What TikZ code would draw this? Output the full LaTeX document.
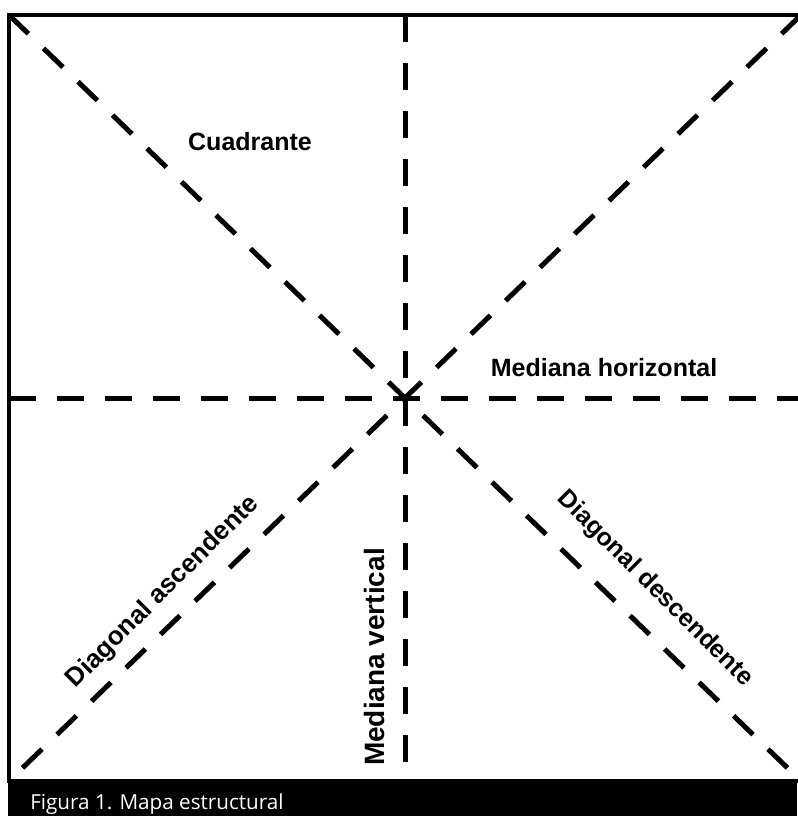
\documentclass[tikz,border=0pt]{standalone}
\usepackage{fontspec}
\setmainfont{Liberation Sans}
\newfontfamily\capfont{Open Sans}
\tikzset{
% Dashed guide lines and bold labels of the map
guide line/.style={line width=3.75pt,dash pattern=on 20.25pt off 15.75pt},
map label/.style={font=\fontsize{18.75}{22}\selectfont\bfseries,inner sep=0}
}
\begin{document}
\begin{tikzpicture}[x=0.75pt,y=-0.75pt]
\useasboundingbox (0,0) rectangle (797,816);
\fill[white] (0,0) rectangle (797,816);
% Corners and midpoints of the frame
\coordinate (tl) at (9,15);
\coordinate (tr) at (801,15);
\coordinate (bl) at (9,781);
\coordinate (br) at (801,781);
\coordinate (tm) at (405,15);
\coordinate (bm) at (405,781);
\coordinate (lm) at (9,398);
\coordinate (rm) at (801,398);
% Guide lines
\draw[guide line] (tl) -- (br);
\draw[guide line] (tr) -- (bl);
\draw[guide line] (tm) -- (bm);
\draw[guide line] (lm) -- (rm);
% Frame
\draw[line width=3pt] (bl) -- (tl) -- (tr) -- (br) -- cycle;
% Caption band
\fill (8,783) rectangle (797,816);
\node(caption)[anchor=base west,text=white,font=\capfont\fontsize{15.5}{18}\selectfont,inner sep=0] at (30,809) {Figura 1. Mapa estructural};
% Labels
\node(quad)[map label] at (250,142) {Cuadrante};
\node(mhor)[map label] at (604,368) {Mediana horizontal};
\node(mver)[map label,rotate=90,font=\fontsize{21}{24}\selectfont\bfseries] at (374,657) {Mediana vertical};
\node(dasc)[map label,rotate=45,font=\fontsize{19.5}{22}\selectfont\bfseries] at (163,592) {Diagonal ascendente};
\node(ddes)[map label,rotate=-45] at (655,589) {Diagonal descendente};
\end{tikzpicture}
\end{document}
